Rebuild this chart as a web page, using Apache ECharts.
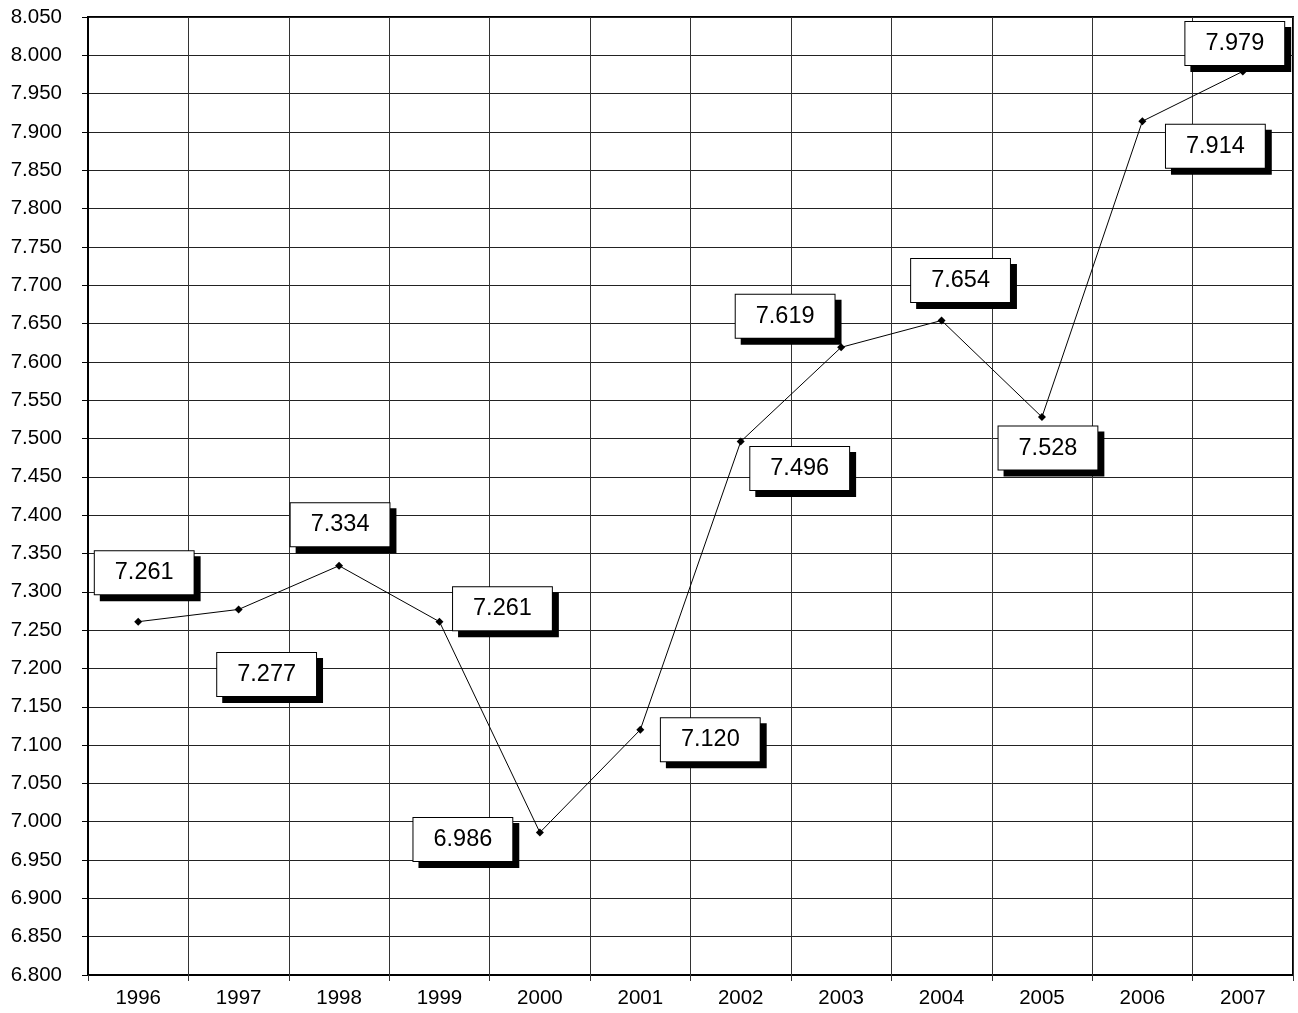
<!DOCTYPE html>
<html>
<head>
    <meta charset="utf-8">
    <title>ECharts</title>
    <script type="text/javascript" src="https://cdn.jsdelivr.net/npm/echarts@6/dist/echarts.min.js"></script>
</head>
<body style="margin:0;">
    <div id="chart" style="width: 1298px;height:1013px;"></div>
</body>
<script type="text/javascript">
    var years = ['1996', '1997', '1998', '1999', '2000', '2001', '2002', '2003', '2004', '2005', '2006', '2007'];
    var values = [7.261, 7.277, 7.334, 7.261, 6.986, 7.120, 7.496, 7.619, 7.654, 7.528, 7.914, 7.979];
    // 数据标签相对数据点的偏移 (px)
    var labelOffsets = [[6, -49], [28, 65], [1, -41], [63, -13], [-77, 7], [70, 10],
                        [59, 27], [-56, -31], [19, -40], [6, 31], [73, 25], [-8, -28]];

    var seriesData = values.map(function (v, i) {
        return { value: v, label: { offset: labelOffsets[i] } };
    });

    var chart = echarts.init(document.getElementById("chart"));
    chart.setOption({
        animation: false,
        grid: {
            left: 88,
            right: 5,
            top: 17,
            bottom: 38,
            show: true,
            borderColor: '#000',
            borderWidth: 2
        },
        xAxis: {
            type: 'category',
            data: years,
            boundaryGap: true,
            axisLine: { lineStyle: { color: '#000', width: 1 } },
            axisTick: { show: true, length: 6, lineStyle: { color: '#333' } },
            splitLine: { show: true, lineStyle: { color: '#333', width: 1 } },
            axisLabel: {
                margin: 13,
                color: '#000',
                fontSize: 20.5,
                fontFamily: 'Liberation Sans, Arial, sans-serif'
            }
        },
        yAxis: {
            type: 'value',
            min: 6.8,
            max: 8.05,
            interval: 0.05,
            axisLine: { show: true, lineStyle: { color: '#000', width: 2 } },
            axisTick: { show: true, length: 6, lineStyle: { color: '#000' } },
            splitLine: { show: true, lineStyle: { color: '#222', width: 1 } },
            axisLabel: {
                margin: 26,
                color: '#000',
                fontSize: 20.5,
                fontFamily: 'Liberation Sans, Arial, sans-serif',
                formatter: function (v) { return v.toFixed(3); }
            }
        },
        series: [{
            type: 'line',
            data: seriesData,
            symbol: 'diamond',
            symbolSize: 8,
            itemStyle: { color: '#000' },
            lineStyle: { color: '#000', width: 1 },
            label: {
                show: true,
                position: 'inside',
                color: '#000',
                fontSize: 23.5,
                fontFamily: 'Liberation Sans, Arial, sans-serif',
                formatter: function (p) { return p.value.toFixed(3); },
                backgroundColor: '#fff',
                borderColor: '#000',
                borderWidth: 1,
                padding: [10, 20, 9, 20],
                shadowColor: '#000',
                shadowBlur: 0,
                shadowOffsetX: 6,
                shadowOffsetY: 6
            }
        }]
    });
</script>
</html>
